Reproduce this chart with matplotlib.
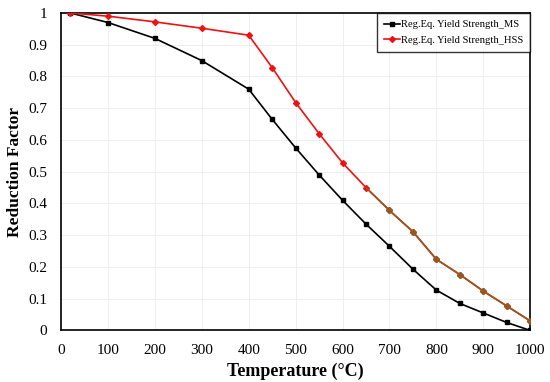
import matplotlib
matplotlib.use("Agg")
import matplotlib.pyplot as plt

temps = [20, 100, 200, 300, 400, 450, 500, 550, 600, 650, 700, 750, 800, 850, 900, 950, 1000]
ms = [1.0, 0.97, 0.92, 0.85, 0.76, 0.665, 0.575, 0.49, 0.41, 0.335, 0.265, 0.193, 0.127, 0.085, 0.055, 0.025, 0.0]
hss = [1.0, 0.99, 0.972, 0.952, 0.93, 0.828, 0.718, 0.62, 0.528, 0.45, 0.378, 0.311, 0.224, 0.176, 0.124, 0.077, 0.03]
xticks = [0, 100, 200, 300, 400, 500, 600, 700, 800, 900, 1000]
yticks = [0, 0.1, 0.2, 0.3, 0.4, 0.5, 0.6, 0.7, 0.8, 0.9, 1]
ytick_labels = ["0", "0.1", "0.2", "0.3", "0.4", "0.5", "0.6", "0.7", "0.8", "0.9", "1"]

plt.rcParams['font.family'] = ['Liberation Serif', 'DejaVu Serif']

fig = plt.figure(figsize=(5.5, 3.82), dpi=100)
ax = fig.add_axes([0.111, 0.135, 0.853, 0.831])

ax.plot(temps, ms, color='black', marker='s', markersize=3.2, linewidth=1.2,
        label='Reg.Eq. Yield Strength_MS', zorder=3)
ax.plot(temps, hss, color='#ee1111', marker='D', markersize=3.0, linewidth=1.2,
        label='Reg.Eq. Yield Strength_HSS', zorder=4)
# later part of the HSS curve appears brownish in the reference
i0 = temps.index(650)
ax.plot(temps[i0:], hss[i0:], color='#94591f', linewidth=1.2, zorder=5)
ax.plot(temps[i0 + 1:], hss[i0 + 1:], color='#94591f', marker='D', markersize=3.0,
        linestyle='none', zorder=6)

ax.set_xlim(0, 1000)
ax.set_ylim(0, 1)
ax.set_xticks(xticks)
ax.set_yticks(yticks)
ax.set_yticklabels(ytick_labels)
ax.tick_params(axis='x', length=0, labelsize=11, pad=10)
ax.tick_params(axis='y', length=0, labelsize=11, pad=10)
ax.grid(True, color='#ebebeb', linewidth=0.6)
ax.set_axisbelow(True)
for s in ax.spines.values():
    s.set_color('black')
    s.set_linewidth(1.2)

ax.set_xlabel('Temperature (°C)', fontsize=13, fontweight='bold', labelpad=4)
ax.set_ylabel('Reduction Factor', fontsize=12.5, fontweight='bold', labelpad=4)

leg = ax.legend(loc='upper right', fontsize=7.6, frameon=True, fancybox=False,
                borderaxespad=0.0, handlelength=1.45, handletextpad=0.15,
                borderpad=0.65, labelspacing=0.6)
leg.get_frame().set_edgecolor('black')
leg.get_frame().set_linewidth(1.0)

fig.savefig('out.png', dpi=100)
